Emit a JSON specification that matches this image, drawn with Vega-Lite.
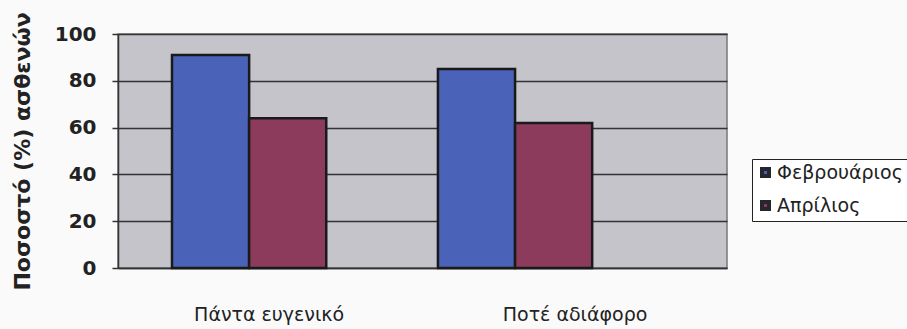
{
  "$schema": "https://vega.github.io/schema/vega-lite/v6.json",
  "autosize": {"type": "none"},
  "width": 609,
  "height": 234,
  "padding": {"left": 118, "top": 34, "right": 180, "bottom": 61},
  "background": "#fafafa",
  "data": {
    "values": [
      {"answer": "Πάντα ευγενικό", "month": "Φεβρουάριος", "pct": 91},
      {"answer": "Πάντα ευγενικό", "month": "Απρίλιος", "pct": 64},
      {"answer": "Ποτέ αδιάφορο", "month": "Φεβρουάριος", "pct": 85},
      {"answer": "Ποτέ αδιάφορο", "month": "Απρίλιος", "pct": 62}
    ]
  },
  "config": {
    "font": "DejaVu Sans",
    "view": {"fill": "#c4c4ca", "stroke": "#777", "strokeWidth": 1.5}
  },
  "mark": {"type": "bar", "stroke": "#1a1a1a", "strokeWidth": 2.5},
  "encoding": {
    "x": {
      "field": "answer",
      "type": "nominal",
      "sort": null,
      "scale": {"paddingInner": 0.42, "paddingOuter": 0.355, "align": 0.286},
      "axis": {
        "title": null,
        "labelAngle": 0,
        "ticks": false,
        "domain": true,
        "domainColor": "#333",
        "domainWidth": 1.5,
        "labelFontSize": 19,
        "labelColor": "#222",
        "labelPadding": 37,
        "labelOffset": {"expr": "datum.value == 'Πάντα ευγενικό' ? 20 : 60"}
      }
    },
    "xOffset": {
      "field": "month",
      "type": "nominal",
      "sort": ["Φεβρουάριος", "Απρίλιος"],
      "scale": {"paddingInner": 0, "paddingOuter": 0}
    },
    "y": {
      "field": "pct",
      "type": "quantitative",
      "scale": {"domain": [0, 100], "nice": false},
      "axis": {
        "title": "Ποσοστό (%) ασθενών",
        "titleFontSize": 22,
        "titleFontWeight": "bold",
        "titleColor": "#222",
        "titlePadding": 20,
        "values": [0, 20, 40, 60, 80, 100],
        "labelFontSize": 20,
        "labelFontWeight": "bold",
        "labelColor": "#222",
        "labelPadding": 16,
        "tickSize": 6,
        "tickColor": "#333",
        "tickWidth": 1.5,
        "domainColor": "#333",
        "domainWidth": 1.5,
        "grid": true,
        "gridColor": "#333",
        "gridWidth": 1.5
      }
    },
    "color": {
      "field": "month",
      "type": "nominal",
      "sort": ["Φεβρουάριος", "Απρίλιος"],
      "scale": {"range": ["#4a63b8", "#8c3b5c"]},
      "legend": {
        "title": null,
        "orient": "none",
        "legendX": 634,
        "legendY": 125,
        "direction": "vertical",
        "symbolType": "square",
        "symbolSize": 49,
        "symbolStrokeColor": "#26262e",
        "symbolStrokeWidth": 4,
        "labelFontSize": 19,
        "labelColor": "#222",
        "labelOffset": 2,
        "rowPadding": 10,
        "padding": 4,
        "strokeColor": "#222",
        "fillColor": "#ffffff"
      }
    }
  }
}
